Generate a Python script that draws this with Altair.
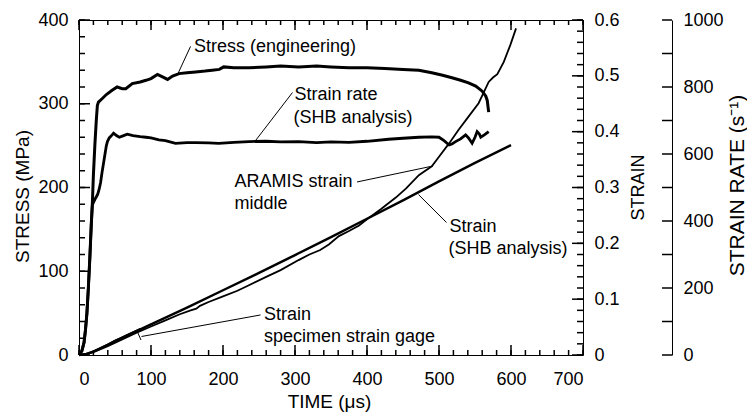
import altair as alt
import pandas as pd

FONT = "Liberation Sans"

# ---------------- data ----------------
stress_t = [0, 4, 7, 9, 11, 13, 15, 17, 18.5, 20, 22, 24, 25.5, 27, 32, 38, 46, 53, 60, 65, 74, 85,
            93, 100, 109, 116, 123, 130, 139, 150, 162, 175, 185, 195, 201, 215, 236, 260, 280, 305,
            330, 350, 375, 400, 425, 450, 472, 490, 505, 518, 530, 541, 551, 560, 565, 567, 569]
stress_mpa = [0, 5, 15, 30, 50, 80, 115, 155, 180, 215, 250, 280, 298, 302, 306, 311, 316, 320, 318,
              318, 324, 326, 328, 330, 335, 332, 329, 333, 336, 337, 338, 339, 340, 341, 344, 343,
              343, 344, 345, 344, 345, 344, 343, 343, 342, 341, 340, 337, 334, 331, 328, 325, 321,
              315, 309, 304, 290]

rate_t = [0, 4, 7, 9, 11, 13, 15, 17, 18.5, 20, 23, 26, 28, 30, 32, 35, 38, 39.5, 42, 46, 48, 52,
          56, 62, 67, 75, 85, 93, 100, 111, 120, 134, 150, 162, 180, 194, 215, 236, 260, 280, 305,
          330, 350, 375, 400, 430, 450, 472, 490, 500, 507, 514, 518, 523, 530, 537, 541, 546, 550,
          553, 556, 558, 563, 569]
rate_val = [0, 12, 37, 75, 125, 200, 287, 387, 448, 455, 468, 480, 495, 515, 545, 585, 625, 637,
            648, 657, 662, 655, 650, 655, 659, 655, 652, 650, 648, 642, 640, 632, 634, 634, 633,
            632, 635, 637, 638, 636, 637, 634, 636, 635, 638, 644, 647, 650, 651, 650, 640, 627,
            630, 637, 645, 657, 648, 632, 650, 667, 660, 650, 657, 667]

shb_t = [0, 10, 20, 30, 50, 100, 150, 200, 250, 300, 350, 400, 450, 500, 550, 600]
shb_strain = [0, 0.002, 0.006, 0.012, 0.025, 0.055, 0.085, 0.116, 0.147, 0.179, 0.211, 0.244,
              0.277, 0.311, 0.344, 0.376]

aramis_t = [0, 10, 20, 40, 60, 80, 100, 120, 140, 155, 163, 168, 180, 200, 220, 236, 260, 280, 305,
            320, 335, 347, 361, 375, 389, 403, 420, 440, 454, 472, 490, 500, 514, 527, 541, 555,
            562, 569, 575, 581, 590, 599, 607]
aramis_strain = [0, 0.001, 0.005, 0.016, 0.028, 0.040, 0.051, 0.062, 0.073, 0.080, 0.083, 0.088,
                 0.095, 0.105, 0.115, 0.125, 0.140, 0.152, 0.170, 0.180, 0.188, 0.198, 0.213,
                 0.222, 0.232, 0.246, 0.262, 0.282, 0.298, 0.322, 0.338, 0.355, 0.379, 0.403,
                 0.427, 0.451, 0.470, 0.489, 0.497, 0.503, 0.525, 0.555, 0.585]

gage_t = [0, 10, 20, 30, 40, 50, 60, 70, 80, 85]
gage_strain = [0, 0.002, 0.007, 0.013, 0.019, 0.026, 0.032, 0.038, 0.044, 0.047]

# annotation texts, anchored in (time, stress) units
label_text = ["Stress (engineering)", "Strain rate", "(SHB analysis)", "ARAMIS strain", "middle",
              "Strain", "(SHB analysis)", "Strain", "specimen strain gage"]
label_t = [159.7, 299.3, 297.9, 216.0, 216.0, 514.6, 513.2, 256.9, 256.9]
label_s = [367.8, 310.4, 283.0, 206.6, 180.3, 153.4, 126.0, 47.8, 21.5]

# leader lines (time, stress) -> (time, stress)
lead_t1 = [154.9, 296.5, 386.1, 471.5, 252.1, 81.25]
lead_s1 = [368.4, 313.4, 206.6, 191.6, 47.8, 27.5]
lead_t2 = [137.5, 245.8, 491.7, 510.4, 86.8, 86.1]
lead_s2 = [336.1, 256.7, 225.7, 158.2, 22.1, 17.9]

# tick values
time_major = [0, 100, 200, 300, 400, 500, 600, 700]
time_minor = list(range(0, 701, 20))
stress_major = [0, 100, 200, 300, 400]
stress_minor = list(range(0, 401, 20))
strain_major = [0, 0.1, 0.2, 0.3, 0.4, 0.5, 0.6]
strain_minor = [round(0.02 * i, 2) for i in range(31)]
rate_major = [0, 200, 400, 600, 800, 1000]
rate_minor = list(range(0, 1001, 100))

W, H = 504, 335
T_MAX, S_MAX, E_MAX, R_MAX = 700, 400, 0.6, 1000

# ---------------- helpers ----------------
def xs():
    return alt.Scale(domain=[0, T_MAX], nice=False, zero=False)

def ys(d):
    return alt.Scale(domain=d, nice=False, zero=False)

def px_t(p):      # pixel length -> time units
    return p * T_MAX / W

def px_s(p):      # pixel length -> stress units
    return p * S_MAX / H

# tick marks as tiny two-point polylines (id, k, t, v) in time / stress units
tick_rows = []
def add_tick(t0, v0, t1, v1):
    i = len(tick_rows) // 2
    tick_rows.append((i, 0, t0, v0))
    tick_rows.append((i, 1, t1, v1))

for vals, ln in ((time_minor, 5), (time_major, 10)):
    for t in vals:
        add_tick(t, 0, t, px_s(ln))
        add_tick(t, S_MAX, t, S_MAX - px_s(ln))
for vals, ln in ((stress_minor, 6), (stress_major, 11)):
    for v in vals:
        add_tick(0, v, px_t(ln), v)
for vals, ln in ((strain_minor, 6), (strain_major, 11)):
    for e in vals:
        v = e * S_MAX / E_MAX
        add_tick(T_MAX - px_t(ln), v, T_MAX, v)
for r in rate_minor:
    v = r * S_MAX / R_MAX
    add_tick(T_MAX + px_t(79), v, T_MAX + px_t(89), v)

tick_df = pd.DataFrame(tick_rows, columns=["id", "k", "t", "v"])

stress_df = pd.DataFrame({"t": stress_t, "v": stress_mpa})
rate_df = pd.DataFrame({"t": rate_t, "v": rate_val})
shb_df = pd.DataFrame({"t": shb_t, "v": shb_strain})
aramis_df = pd.DataFrame({"t": aramis_t, "v": aramis_strain})
gage_df = pd.DataFrame({"t": gage_t, "v": gage_strain})
label_df = pd.DataFrame({"t": label_t, "v": label_s, "txt": label_text})
lead_df = pd.DataFrame({"t": lead_t1, "v": lead_s1, "t2": lead_t2, "v2": lead_s2})

x_label_axis = alt.Axis(orient="bottom", values=time_major, ticks=False, tickSize=0, domain=False,
                        grid=False, labelPadding=15, labelFontSize=18, labelColor="black",
                        title="TIME (μs)", titleFontSize=19, titleX=250, titleY=46,
                        titleAlign="center", titleBaseline="middle", titleFontWeight="normal",
                        titleColor="black")
y_stress_axis = alt.Axis(orient="left", values=stress_major, ticks=False, tickSize=0, domain=False,
                         grid=False, labelPadding=11, labelFontSize=18, labelColor="black",
                         title="STRESS (MPa)", titleFontSize=19, titleAngle=270, titleX=-57,
                         titleY=176, titleAlign="center", titleBaseline="middle",
                         titleFontWeight="normal", titleColor="black")
y_strain_axis = alt.Axis(orient="right", values=strain_major, ticks=False, tickSize=0, domain=False,
                         grid=False, labelPadding=11, labelFontSize=18, labelColor="black",
                         labelExpr="datum.value == 0 ? '0' : format(datum.value, '.1f')",
                         title="STRAIN", titleFontSize=18, titleAngle=270, titleX=55, titleY=167,
                         titleAlign="center", titleBaseline="middle", titleFontWeight="normal",
                         titleColor="black")
y_rate_axis = alt.Axis(orient="right", offset=89, values=rate_major, ticks=False, tickSize=0,
                       domain=True, domainColor="black", domainWidth=1, grid=False, format="d",
                       labelPadding=11, labelFontSize=18, labelColor="black",
                       title="STRAIN RATE (s⁻¹)", titleFontSize=21, titleAngle=270, titleX=65,
                       titleY=165, titleAlign="center", titleBaseline="middle",
                       titleFontWeight="normal", titleColor="black")

L_stress = alt.Chart(stress_df).mark_line(color="black", strokeWidth=3).encode(
    x=alt.X("t:Q", scale=xs(), axis=x_label_axis),
    y=alt.Y("v:Q", scale=ys([0, S_MAX]), axis=y_stress_axis),
)
L_rate = alt.Chart(rate_df).mark_line(color="black", strokeWidth=2.8).encode(
    x=alt.X("t:Q", scale=xs(), axis=None),
    y=alt.Y("v:Q", scale=ys([0, R_MAX]), axis=y_rate_axis),
)
L_shb = alt.Chart(shb_df).mark_line(color="black", strokeWidth=2.4).encode(
    x=alt.X("t:Q", scale=xs(), axis=None),
    y=alt.Y("v:Q", scale=ys([0, E_MAX]), axis=y_strain_axis),
)
L_aramis = alt.Chart(aramis_df).mark_line(color="black", strokeWidth=1.8).encode(
    x=alt.X("t:Q", scale=xs(), axis=None),
    y=alt.Y("v:Q", scale=ys([0, E_MAX]), axis=None),
)
L_gage = alt.Chart(gage_df).mark_line(color="black", strokeWidth=1.5).encode(
    x=alt.X("t:Q", scale=xs(), axis=None),
    y=alt.Y("v:Q", scale=ys([0, E_MAX]), axis=None),
)
L_text = alt.Chart(label_df).mark_text(align="left", baseline="middle", font=FONT, fontSize=18,
                                       color="black").encode(
    x=alt.X("t:Q", scale=xs(), axis=None),
    y=alt.Y("v:Q", scale=ys([0, S_MAX]), axis=None),
    text="txt:N",
)
L_lead = alt.Chart(lead_df).mark_rule(color="black", strokeWidth=1).encode(
    x=alt.X("t:Q", scale=xs(), axis=None), x2="t2:Q",
    y=alt.Y("v:Q", scale=ys([0, S_MAX]), axis=None), y2="v2:Q",
)
L_ticks = alt.Chart(tick_df).mark_line(color="black", strokeWidth=1.5, clip=False).encode(
    x=alt.X("t:Q", scale=xs(), axis=None),
    y=alt.Y("v:Q", scale=ys([0, S_MAX]), axis=None),
    detail="id:N",
    order="k:Q",
)

chart = alt.layer(
    L_stress, L_rate, L_shb, L_aramis, L_gage, L_text, L_lead, L_ticks
).resolve_scale(
    x="independent", y="independent"
).properties(
    width=W, height=H,
    autosize=alt.AutoSizeParams(type="none"),
    padding={"left": 79, "top": 20, "right": 164, "bottom": 59},
    background="white",
).configure(
    font=FONT
).configure_view(
    stroke="black", strokeWidth=1
).configure_axis(
    labelFont=FONT, titleFont=FONT
)

chart.save("out.html", embed_options={"renderer": "svg", "actions": False})
